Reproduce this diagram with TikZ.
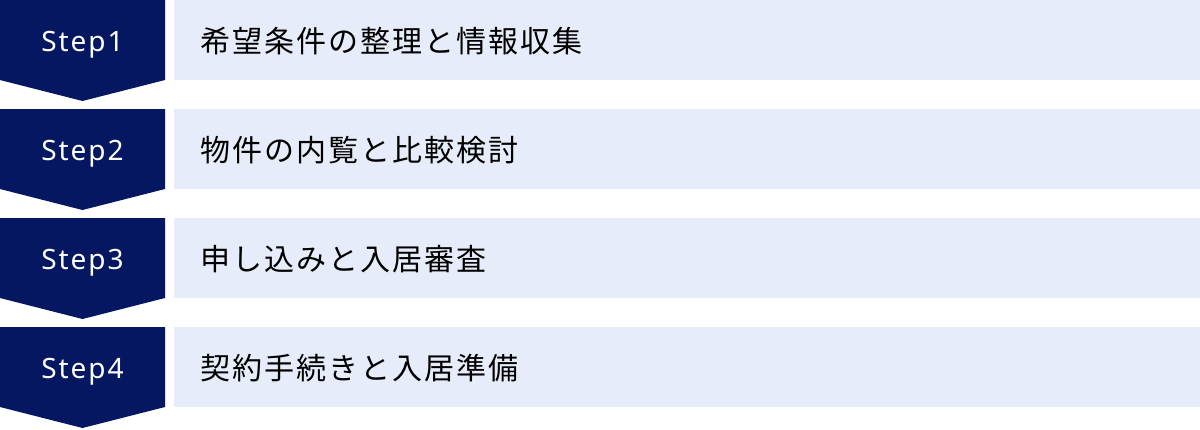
\documentclass[tikz,border=0pt]{standalone}
\usepackage{fontspec}
\newfontfamily\jpfont{Noto Sans CJK JP}[LetterSpace=6.7]
\newfontfamily\stepfont{Noto Sans}[LetterSpace=6.8]
\definecolor{navy}{RGB}{4,23,96}
\definecolor{pale}{RGB}{230,236,249}
\tikzset{
  steplabel/.style={anchor=base, inner sep=0pt, text=white, font=\stepfont\fontsize{28pt}{32pt}\selectfont},
  itemlabel/.style={anchor=base west, inner sep=0pt, text=black, font=\jpfont\fontsize{30pt}{36pt}\selectfont},
}
\begin{document}
\begin{tikzpicture}[x=1pt,y=-1pt]
\useasboundingbox (0,0) rectangle (1200,429);
\foreach \t/\n/\txt in {0/1/希望条件の整理と情報収集, 109/2/物件の内覧と比較検討, 218/3/申し込みと入居審査, 327/4/契約手続きと入居準備}{
  \fill[navy] (0,\t) -- (165,\t) -- (165,\t+80) -- (82.5,\t+101) -- (0,\t+80) -- cycle;
  \fill[pale] (174,\t) rectangle (1200,\t+80);
  \node[steplabel] (step\n) at (82.5,\t+51.5) {Step\n};
  \node[itemlabel] (item\n) at (200,\t+52) {\txt};
}
\end{tikzpicture}
\end{document}
